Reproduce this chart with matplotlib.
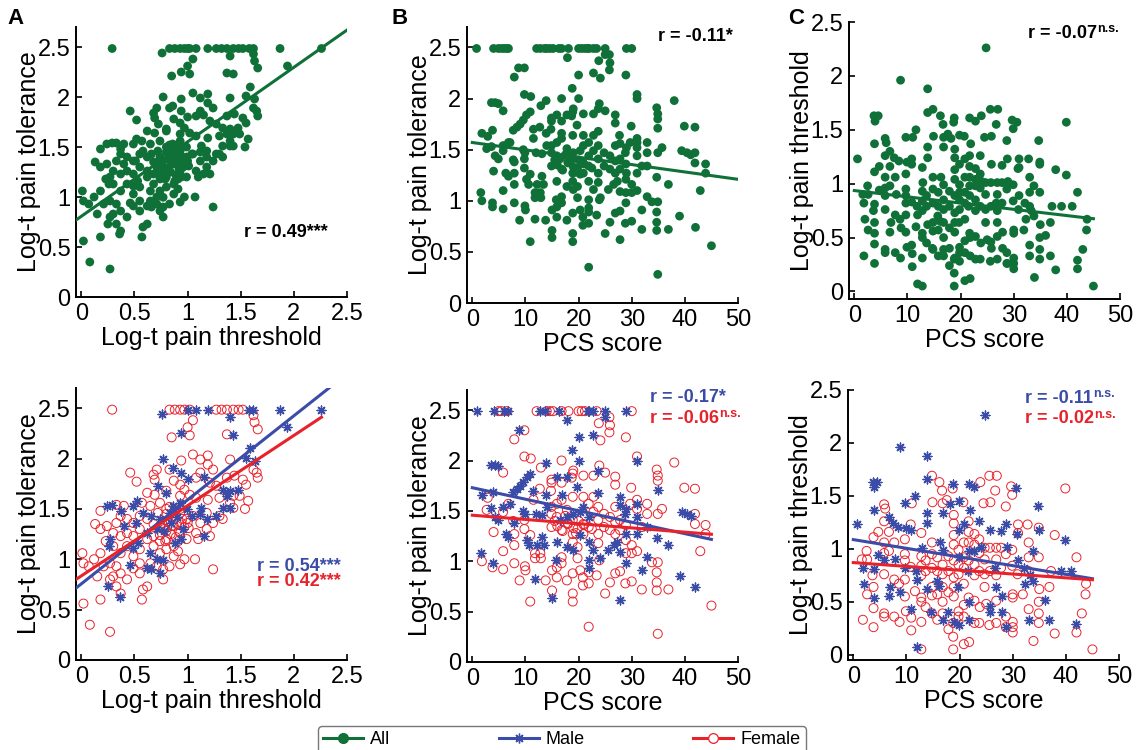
import numpy as np
import matplotlib
matplotlib.use("Agg")
import matplotlib.pyplot as plt
from matplotlib.lines import Line2D

plt.rcParams['font.family'] = ['Liberation Sans', 'DejaVu Sans']

GREEN = '#0f7038'
BLUE = '#3b4ca8'
RED = '#e8222b'

# ---- threshold vs tolerance (panel A) ----
thr_male = [0.76, 1.0, 1.08, 1.19, 1.58, 1.62, 1.87, 2.26, 1.40, 0.94, 1.43, 1.94, 1.59, 1.55, 1.63,
            0.77, 0.86, 0.94, 1.0, 1.15, 0.725, 0.80, 0.52, 0.49, 1.33, 1.37, 1.40, 1.475, 1.13, 1.12,
            1.27, 1.18, 1.33, 1.40, 0.24, 0.29, 0.37, 0.58, 0.66, 0.74, 0.83, 0.86, 0.93, 0.99, 1.04,
            0.40, 0.51, 0.62, 0.71, 0.27, 0.26, 0.49, 0.53, 0.65, 0.71, 0.77, 0.66, 0.62, 0.46, 0.74,
            0.94, 1.15, 0.88, 0.25, 0.36, 0.84, 0.90, 0.78, 0.96, 0.87]
tol_male = [2.44, 2.485, 2.485, 2.485, 2.485, 2.485, 2.485, 2.485, 2.41, 2.25, 2.23, 2.31, 2.10, 2.01, 1.98,
            2.0, 1.91, 1.86, 1.80, 1.82, 1.73, 1.66, 1.58, 1.53, 1.69, 1.63, 1.68, 1.69, 1.51, 1.45,
            1.43, 1.40, 1.51, 1.51, 1.53, 1.54, 1.48, 1.46, 1.43, 1.40, 1.46, 1.53, 1.56, 1.50, 1.43,
            1.33, 1.36, 1.26, 1.30, 1.20, 1.13, 1.11, 1.16, 1.06, 1.0, 0.997, 0.90, 0.91, 0.94, 0.86,
            1.20, 1.23, 1.16, 0.73, 0.63, 1.36, 1.42, 1.28, 1.30, 1.50]
thr_female = [0.29, 0.83, 0.88, 0.93, 0.97, 1.02, 1.27, 1.32, 1.37, 1.43, 1.48, 1.52, 1.05, 1.0, 1.02,
              0.85, 1.62, 1.63, 1.66, 1.37, 1.05, 1.12, 1.19, 1.19, 1.40, 1.24, 1.12, 1.08, 0.94, 0.83,
              0.71, 0.68, 0.46, 0.52, 0.69, 0.87, 0.93, 0.97, 1.21, 1.27, 1.37, 1.44, 1.52, 1.55, 1.65,
              1.66, 1.62, 1.57, 1.40, 1.43, 1.49, 1.30, 1.19, 1.08, 1.02, 0.93, 0.80, 0.69, 0.62, 0.57,
              0.65, 0.74, 0.80, 0.87, 0.93, 0.99, 1.05, 1.12, 1.18, 1.24, 1.30, 1.18, 1.08, 1.01, 0.94,
              0.87, 0.80, 0.74, 0.68, 0.62, 0.55, 0.49, 0.43, 0.37, 0.33, 0.40, 0.33, 0.18, 0.13, 0.18,
              0.24, 0.30, 0.37, 0.43, 0.49, 0.55, 0.62, 0.68, 0.74, 0.80, 0.87, 0.80, 0.74, 0.68, 0.55,
              0.49, 0.43, 0.37, 0.30, 0.23, 0.18, 0.12, 0.07, 0.01, 0.02, 0.15, 0.21, 0.27, 0.33, 0.30,
              0.37, 0.43, 0.49, 0.55, 0.55, 0.58, 0.57, 0.62, 0.33, 0.37, 0.27, 0.18, 0.02, 0.08, 0.27,
              0.77, 0.77, 0.83, 0.93, 0.97, 1.07, 1.24, 1.10, 1.21, 1.33, 1.43, 1.54, 0.93, 0.99, 0.91,
              0.65, 0.71, 0.87, 0.78, 0.82, 0.86, 0.90, 0.84, 0.92, 0.88, 0.80, 0.76, 0.95, 0.97, 0.74,
              0.85, 0.89, 0.93, 0.79, 0.83, 1.0, 0.72, 0.91]
tol_female = [2.485, 2.485, 2.485, 2.485, 2.485, 2.485, 2.485, 2.485, 2.485, 2.485, 2.485, 2.485, 2.38, 2.31, 2.23,
              2.21, 2.43, 2.36, 2.29, 2.24, 2.04, 1.99, 2.03, 1.94, 1.99, 1.89, 1.86, 1.81, 1.98, 1.89,
              1.89, 1.84, 1.86, 1.77, 1.79, 1.78, 1.74, 1.69, 1.76, 1.73, 1.81, 1.83, 1.79, 1.74, 1.86,
              1.81, 1.89, 1.58, 1.56, 1.63, 1.63, 1.61, 1.59, 1.61, 1.64, 1.63, 1.68, 1.64, 1.66, 1.56,
              1.53, 1.56, 1.50, 1.43, 1.46, 1.40, 1.43, 1.36, 1.46, 1.36, 1.43, 1.30, 1.26, 1.31, 1.36,
              1.33, 1.28, 1.33, 1.35, 1.40, 1.43, 1.36, 1.40, 1.43, 1.36, 1.53, 1.54, 1.48, 1.35, 1.30,
              1.33, 1.26, 1.23, 1.26, 1.23, 1.30, 1.20, 1.23, 1.18, 1.20, 1.13, 1.10, 1.06, 1.13, 1.10,
              1.03, 1.13, 1.06, 1.13, 1.18, 1.06, 1.0, 0.93, 1.06, 0.96, 0.83, 0.93, 0.96, 0.93, 0.83,
              0.86, 0.80, 0.91, 0.96, 0.86, 0.70, 0.60, 0.73, 0.73, 0.66, 0.80, 0.60, 0.56, 0.35, 0.28,
              0.80, 0.90, 0.93, 0.95, 1.0, 1.0, 0.90, 1.20, 1.23, 1.40, 1.51, 1.50, 1.26, 1.20, 1.08,
              0.96, 0.93, 1.03, 1.30, 1.38, 1.42, 1.35, 1.25, 1.28, 1.48, 1.45, 1.36, 1.40, 1.32, 1.24,
              1.33, 1.22, 1.50, 1.18, 1.52, 1.36, 1.46, 1.18]

# ---- PCS vs tolerance (panel B) ----
pcs_tol_male = [0.8, 4.0, 6.0, 6.8, 12.8, 13.6, 16.3, 21.7, 22.0, 22.8, 25.0, 25.0, 29.0, 17.9, 8.7,
                20.0, 22.8, 18.8, 20.0, 31.0, 3.6, 4.3, 4.9, 13.9, 15.9, 17.8, 23.7, 10.2, 10.9, 9.6,
                9.0, 8.4, 7.7, 1.8, 3.8, 11.5, 13.9, 16.8, 19.7, 23.7, 27.7, 27.8, 31.0, 34.9, 3.6,
                4.3, 4.9, 5.8, 7.1, 9.6, 9.9, 12.0, 13.1, 14.0, 16.5, 17.8, 19.0, 20.3, 20.9, 21.9,
                28.8, 29.0, 31.0, 32.9, 34.7, 36.9, 39.4, 40.4, 41.1, 39.0, 42.0, 27.8, 15.0, 11.8, 1.6,
                3.8, 6.3, 6.8, 7.9, 10.2, 10.6, 12.2, 13.1, 13.4, 15.9, 17.8, 19.0, 15.8, 20.3, 21.9,
                21.9, 21.9, 22.8, 24.1, 25.6, 26.6, 27.3, 27.8, 28.9, 31.9, 32.9, 31.0, 29.0]
tol_b_male = [2.49, 2.49, 2.49, 2.49, 2.49, 2.49, 2.49, 2.49, 2.49, 2.49, 2.49, 2.43, 2.49, 2.40, 2.30,
              2.23, 2.25, 2.10, 2.0, 2.0, 1.96, 1.96, 1.95, 1.98, 1.84, 1.84, 1.90, 1.84, 1.87, 1.79,
              1.75, 1.72, 1.69, 1.66, 1.69, 1.70, 1.66, 1.66, 1.74, 1.68, 1.64, 1.56, 1.57, 1.71, 1.53,
              1.44, 1.41, 1.54, 1.57, 1.50, 1.47, 1.47, 1.46, 1.54, 1.41, 1.44, 1.47, 1.49, 1.54, 1.44,
              1.47, 1.52, 1.44, 1.34, 1.23, 1.16, 1.49, 1.47, 1.45, 0.85, 0.74, 0.62, 0.64, 0.82, 1.08,
              0.98, 1.27, 1.24, 1.38, 1.21, 1.16, 1.16, 1.24, 1.16, 1.19, 1.14, 1.11, 1.01, 1.26, 1.19,
              1.01, 0.93, 1.11, 1.03, 1.11, 1.16, 1.19, 1.09, 0.98, 0.91, 1.04, 1.27, 1.27]
pcs_tol_female = [4.9, 5.5, 6.5, 12.1, 14.0, 14.6, 15.2, 16.8, 18.1, 20.0, 20.6, 21.2, 23.4, 30.0, 9.8,
                  7.9, 23.8, 25.8, 25.9, 25.8, 24.1, 28.9, 9.8, 11.0, 16.8, 12.9, 23.9, 19.0, 18.9, 18.7,
                  5.8, 14.9, 14.9, 16.8, 20.9, 22.8, 25.0, 26.9, 26.9, 31.0, 34.7, 34.9, 34.9, 38.0, 39.9,
                  41.9, 29.9, 31.0, 32.9, 29.7, 35.7, 34.9, 41.9, 41.9, 43.9, 43.9, 42.9, 34.9, 33.8, 34.7,
                  34.7, 34.7, 36.9, 34.9, 45.0, 31.9, 30.0, 28.8, 26.9, 27.8, 25.9, 25.0, 23.4, 21.9, 20.8,
                  20.8, 18.9, 18.9, 18.9, 17.8, 15.9, 15.0, 13.8, 10.9, 8.9, 21.9, 9.9, 10.0, 7.9, 5.8,
                  3.8, 1.8, 5.8, 7.9, 7.9, 4.0, 2.7, 2.9, 5.8, 6.8, 7.7, 9.8, 9.8, 10.9, 11.8,
                  11.8, 12.8, 12.9, 11.5, 12.7, 14.8, 14.9, 14.9, 14.9, 15.9, 15.9, 16.8, 16.8, 17.8, 18.0,
                  18.9, 18.9, 18.9, 18.9, 19.8, 19.8, 20.9, 20.9, 20.9, 21.9, 21.9, 22.8, 22.8, 23.7, 23.7,
                  23.7, 23.7, 23.9, 24.8, 24.8, 25.9, 25.9, 26.9, 26.9, 26.9, 27.8, 27.8, 28.9, 28.9, 28.9,
                  30.0, 31.0, 30.0, 31.9, 32.9, 31.0, 16.8, 16.8, 15.9, 15.0, 20.3, 21.9, 19.8, 16.0,
                  17.0, 18.0, 19.0, 20.0, 21.0, 17.5, 19.5, 15.5, 22.5]
tol_b_female = [2.49, 2.49, 2.49, 2.49, 2.49, 2.49, 2.49, 2.49, 2.49, 2.49, 2.49, 2.49, 2.49, 2.49, 2.30,
                2.21, 2.37, 2.43, 2.35, 2.28, 2.20, 2.23, 2.04, 2.02, 2.0, 1.93, 1.95, 1.90, 1.87, 1.83,
                1.88, 1.81, 1.78, 1.78, 1.85, 1.85, 1.88, 1.84, 1.76, 2.04, 1.91, 1.85, 1.80, 1.98, 1.73,
                1.72, 1.73, 1.61, 1.57, 1.57, 1.52, 1.47, 1.47, 1.37, 1.36, 1.27, 1.10, 0.99, 0.99, 0.89,
                0.79, 0.71, 0.72, 0.28, 0.56, 0.72, 0.80, 0.78, 0.88, 0.90, 0.79, 0.68, 0.86, 0.89, 0.84,
                0.76, 0.88, 0.68, 0.60, 0.81, 0.84, 0.71, 0.81, 0.60, 0.81, 0.35, 0.95, 0.91, 0.98, 0.92,
                0.94, 1.0, 1.10, 1.16, 1.27, 1.29, 1.51, 1.63, 1.49, 1.57, 1.40, 1.41, 1.32, 1.26, 1.08,
                1.03, 1.08, 1.03, 1.61, 1.72, 1.70, 1.54, 1.47, 1.34, 1.57, 1.44, 1.61, 1.31, 1.51, 1.37,
                1.64, 1.41, 1.27, 1.19, 1.32, 1.14, 1.64, 1.37, 1.27, 1.57, 1.34, 1.64, 1.49, 1.54, 1.41,
                1.27, 1.18, 1.01, 1.47, 1.34, 1.44, 1.31, 1.54, 1.39, 1.27, 1.41, 1.31, 1.36, 1.21, 1.08,
                1.08, 1.10, 1.16, 1.34, 1.47, 1.52, 1.04, 0.98, 0.94, 0.91, 0.91, 0.78, 1.03, 1.35,
                1.30, 1.38, 1.33, 1.40, 1.36, 1.45, 1.28, 1.40, 1.32]

# ---- PCS vs threshold (panel C) ----
pcs_thr_male = [24.8, 8.7, 13.8, 3.7, 4.5, 3.9, 13.8, 18.8, 21.7, 22.8, 30.6, 11.6, 9.7, 19.8, 18.2,
                34.7, 3.8, 21.9, 13.8, 16.8, 6.7, 7.5, 8.4, 9.9, 10.8, 0.6, 13.8, 19.8, 20.8, 23.7,
                25.8, 27.8, 28.8, 30.8, 34.9, 39.9, 12.9, 16.3, 16.8, 4.7, 28.9, 33.8, 31.0, 19.8, 21.7,
                22.8, 24.0, 7.9, 9.7, 11.8, 1.8, 3.8, 5.8, 11.9, 21.5, 26.7, 32.1, 33.3, 33.8, 32.3,
                39.0, 41.0, 2.0, 6.9, 6.7, 3.8, 8.8, 13.8, 15.7, 16.2, 19.7, 26.9, 21.8, 25.7, 25.8,
                27.9, 27.9, 10.8, 14.7, 16.8, 17.9, 18.9, 19.8, 21.8, 28.8, 33.0, 36.0, 36.9, 42.0, 11.9]
thr_c_male = [2.26, 1.96, 1.88, 1.63, 1.63, 1.58, 1.66, 1.61, 1.61, 1.58, 1.57, 1.50, 1.43, 1.45, 1.42,
              1.40, 1.37, 1.37, 1.34, 1.34, 1.30, 1.24, 1.21, 1.20, 1.18, 1.23, 1.24, 1.18, 1.23, 1.26,
              1.18, 1.17, 1.23, 1.14, 1.18, 1.08, 1.01, 1.06, 0.99, 0.94, 1.02, 0.98, 0.89, 0.92, 0.98,
              0.98, 1.02, 0.90, 0.82, 0.79, 0.82, 0.81, 0.89, 0.71, 0.79, 0.82, 0.82, 0.75, 0.70, 0.67,
              0.79, 0.79, 0.67, 0.64, 0.55, 0.54, 0.59, 0.62, 0.70, 0.65, 0.64, 0.64, 0.50, 0.46, 0.40,
              0.55, 0.40, 0.43, 0.40, 0.33, 0.40, 0.31, 0.28, 0.33, 0.26, 0.33, 0.52, 0.33, 0.29, 0.07]
pcs_thr_female = [14.8, 16.2, 16.7, 18.7, 17.6, 16.8, 14.9, 11.0, 5.8, 6.0, 23.9, 25.6, 27.0, 26.7, 24.5,
                  25.8, 20.7, 29.7, 29.9, 28.7, 39.9, 31.0, 32.8, 34.9, 37.9, 34.9, 42.0, 37.2, 33.0, 35.0,
                  36.9, 43.8, 43.7, 43.0, 42.0, 45.0, 37.9, 33.9, 34.9, 34.9, 33.0, 34.9, 30.0, 30.0, 30.0,
                  30.0, 28.7, 28.7, 26.9, 25.6, 23.7, 23.8, 22.8, 21.7, 20.8, 20.8, 19.8, 18.8, 18.8, 18.8,
                  20.8, 21.8, 22.8, 17.9, 16.8, 15.8, 14.8, 13.6, 12.8, 12.8, 12.8, 12.8, 10.9, 10.9, 9.9,
                  8.7, 7.7, 5.8, 5.8, 3.8, 3.8, 1.8, 2.6, 11.6, 9.7, 8.6, 7.7, 5.8, 3.6, 2.6,
                  5.8, 5.8, 6.7, 7.7, 6.7, 4.7, 3.8, 5.8, 9.7, 9.7, 9.7, 9.7, 10.8, 10.8, 12.8,
                  12.8, 12.8, 12.8, 13.6, 13.6, 14.8, 14.8, 14.8, 14.8, 14.8, 15.8, 15.8, 15.8, 16.8, 16.8,
                  16.8, 16.8, 17.9, 17.9, 17.9, 18.9, 18.9, 18.9, 18.9, 18.9, 18.9, 18.9, 18.9, 19.8, 19.8,
                  19.8, 19.8, 20.8, 20.8, 20.8, 20.8, 21.7, 21.7, 21.7, 21.7, 22.8, 22.8, 22.8, 22.8, 23.7,
                  23.7, 23.7, 24.7, 24.7, 24.7, 24.7, 25.7, 25.7, 26.9, 26.9, 26.9, 27.8, 28.7, 27.8, 29.9,
                  29.9, 30.9, 31.9, 33.0, 30.0, 25.0, 26.9, 2.5, 1.6, 3.8, 33.0, 31.0]
thr_c_female = [1.69, 1.63, 1.55, 1.57, 1.46, 1.43, 1.44, 1.43, 1.42, 1.38, 1.63, 1.69, 1.69, 1.55, 1.43,
                1.44, 1.44, 1.59, 1.51, 1.40, 1.57, 1.23, 1.23, 1.20, 1.13, 0.92, 0.92, 0.79, 0.79, 0.62,
                0.64, 0.67, 0.57, 0.39, 0.21, 0.05, 0.20, 0.13, 0.39, 0.30, 0.43, 0.50, 0.57, 0.31, 0.26,
                0.21, 0.26, 0.36, 0.30, 0.28, 0.30, 0.45, 0.51, 0.54, 0.47, 0.36, 0.36, 0.30, 0.17, 0.05,
                0.10, 0.12, 0.30, 0.24, 0.39, 0.33, 0.39, 0.45, 0.54, 0.50, 0.05, 0.31, 0.35, 0.23, 0.41,
                0.31, 0.36, 0.39, 0.36, 0.44, 0.26, 0.33, 0.57, 0.60, 0.55, 0.67, 0.71, 0.76, 0.75, 0.90,
                0.96, 1.06, 0.98, 1.06, 1.16, 1.16, 1.11, 1.26, 1.09, 0.95, 0.89, 0.71, 0.83, 1.23, 1.15,
                0.93, 0.84, 0.75, 0.89, 0.79, 1.06, 0.95, 0.82, 0.64, 0.56, 0.92, 0.79, 0.57, 0.85, 0.76,
                0.64, 0.50, 0.93, 0.79, 0.59, 1.32, 1.24, 1.13, 1.04, 0.89, 0.73, 0.64, 0.55, 0.99, 0.85,
                0.76, 0.41, 1.06, 0.92, 0.82, 0.67, 1.26, 1.16, 1.06, 0.89, 1.14, 1.04, 0.85, 0.75, 1.09,
                0.96, 0.79, 1.01, 0.90, 0.76, 0.64, 1.01, 0.79, 1.01, 0.90, 0.75, 1.01, 0.95, 0.82, 0.99,
                0.84, 0.76, 0.57, 0.92, 0.54, 0.48, 0.51, 0.98, 0.90, 0.64, 1.06, 1.15]

# regression lines: (slope, intercept, x start, x end)
fit_a = {'all': (0.745, 0.807, -0.05, 2.5), 'male': (0.834, 0.756, -0.05, 2.33), 'female': (0.697, 0.835, -0.05, 2.26)}
fit_b = {'all': (-0.0072, 1.57, 0, 50), 'male': (-0.0114, 1.73, 0, 45), 'female': (-0.0042, 1.457, 0, 45)}
fit_c = {'all': (-0.0058, 0.936, 0, 45), 'male': (-0.0082, 1.087, 0, 45), 'female': (-0.0036, 0.87, 0, 45)}

# correlation labels: (main text, superscript)
r_all = [('r = 0.49***', ''), ('r = -0.11*', ''), ('r = -0.07', 'n.s.')]
r_male = [('r = 0.54***', ''), ('r = -0.17*', ''), ('r = -0.11', 'n.s.')]
r_female = [('r = 0.42***', ''), ('r = -0.06', 'n.s.'), ('r = -0.02', 'n.s.')]

W, H = 1137, 750
fig = plt.figure(figsize=(W / 100, H / 100), dpi=100)


def px_axes(left, top, right, bottom):
    return fig.add_axes([left / W, 1 - bottom / H, (right - left) / W, (bottom - top) / H])


def style(ax, xlim, ylim, xticks, xlabel, ylabel):
    ax.set_xlim(*xlim)
    ax.set_ylim(*ylim)
    ax.set_xticks(xticks)
    ax.set_xticklabels(['%g' % t for t in xticks])
    yt = [0, 0.5, 1, 1.5, 2, 2.5]
    ax.set_yticks(yt)
    ax.set_yticklabels(['%g' % t for t in yt])
    for s in ['top', 'right']:
        ax.spines[s].set_visible(False)
    for s in ['left', 'bottom']:
        ax.spines[s].set_linewidth(1.4)
    ax.tick_params(direction='in', length=4, width=1.2, labelsize=17, pad=4)
    ax.set_xlabel(xlabel, fontsize=18, labelpad=1)
    ax.set_ylabel(ylabel, fontsize=18)
    ax.yaxis.set_label_coords(-0.13, 0.5)


def fit_line(ax, fit, color):
    k, b, x0, x1 = fit
    xs = np.array([x0, x1])
    ax.plot(xs, k * xs + b, color=color, lw=2.2, zorder=5)


def r_text(ax, x, y, label, color='black'):
    main, sup = label
    t = ax.text(x, y, main, transform=ax.transAxes, fontsize=13, fontweight='bold',
                va='center', ha='left', color=color)
    if sup:
        ax.annotate(sup, xy=(1.0, 0.75), xycoords=t, fontsize=9, fontweight='bold',
                    va='center', ha='left', color=color)


def draw_all(ax, x, y, fit):
    ax.scatter(x, y, s=40, color=GREEN, edgecolors='none', zorder=3)
    fit_line(ax, fit, GREEN)


def draw_sex(ax, xm, ym, xf, yf, fits):
    ax.scatter(xf, yf, s=42, facecolors='none', edgecolors=RED, linewidths=0.7, zorder=3)
    ax.scatter(xm, ym, s=40, marker=(8, 2, 0), color=BLUE, linewidths=1.0, zorder=4)
    fit_line(ax, fits['male'], BLUE)
    fit_line(ax, fits['female'], RED)


# Top row
axA = px_axes(76, 27, 347, 297)
draw_all(axA, thr_male + thr_female, tol_male + tol_female, fit_a['all'])
style(axA, (-0.05, 2.5), (0, 2.7), [0, 0.5, 1, 1.5, 2, 2.5], 'Log-t pain threshold', 'Log-t pain tolerance')
r_text(axA, 0.62, 0.24, r_all[0])

axB = px_axes(467, 27, 738, 303)
draw_all(axB, pcs_tol_male + pcs_tol_female, tol_b_male + tol_b_female, fit_b['all'])
style(axB, (-1, 50), (0, 2.7), [0, 10, 20, 30, 40, 50], 'PCS score', 'Log-t pain tolerance')
r_text(axB, 0.705, 0.965, r_all[1])

axC = px_axes(849, 22, 1120, 299)
draw_all(axC, pcs_thr_male + pcs_thr_female, thr_c_male + thr_c_female, fit_c['all'])
style(axC, (-1, 50), (-0.07, 2.5), [0, 10, 20, 30, 40, 50], 'PCS score', 'Log-t pain threshold')
r_text(axC, 0.66, 0.96, r_all[2])

# Bottom row
axD = px_axes(76, 388, 347, 660)
draw_sex(axD, thr_male, tol_male, thr_female, tol_female, fit_a)
style(axD, (-0.05, 2.5), (0, 2.7), [0, 0.5, 1, 1.5, 2, 2.5], 'Log-t pain threshold', 'Log-t pain tolerance')
r_text(axD, 0.668, 0.342, r_male[0], BLUE)
r_text(axD, 0.668, 0.287, r_female[0], RED)

axE = px_axes(467, 390, 738, 662)
draw_sex(axE, pcs_tol_male, tol_b_male, pcs_tol_female, tol_b_female, fit_b)
style(axE, (-1, 50), (0, 2.7), [0, 10, 20, 30, 40, 50], 'PCS score', 'Log-t pain tolerance')
r_text(axE, 0.675, 0.974, r_male[1], BLUE)
r_text(axE, 0.675, 0.897, r_female[1], RED)

axF = px_axes(848, 390, 1119, 660)
draw_sex(axF, pcs_thr_male, thr_c_male, pcs_thr_female, thr_c_female, fit_c)
style(axF, (-1, 50), (-0.05, 2.5), [0, 10, 20, 30, 40, 50], 'PCS score', 'Log-t pain threshold')
r_text(axF, 0.653, 0.97, r_male[2], BLUE)
r_text(axF, 0.653, 0.893, r_female[2], RED)

# panel letters
for lab, xp in [('A', 15), ('B', 400), ('C', 796)]:
    fig.text(xp / W, 1 - 18 / H, lab, fontsize=16, fontweight='bold', va='center', ha='center')

handles = [
    Line2D([], [], color=GREEN, lw=2.2, marker='o', markersize=7, markerfacecolor=GREEN, markeredgecolor=GREEN),
    Line2D([], [], color=BLUE, lw=2.2, marker=(8, 2, 0), markersize=7, markeredgewidth=1.0),
    Line2D([], [], color=RED, lw=2.2, marker='o', markersize=7, markerfacecolor='white', markeredgecolor=RED, markeredgewidth=0.9),
]
leg = fig.legend(handles, ['All', 'Male', 'Female'], loc='upper left', bbox_to_anchor=(318 / W, 1 - 726 / H),
                 ncol=3, fontsize=13, handlelength=2.2, columnspacing=6.0, handletextpad=0.4,
                 frameon=True, fancybox=True, borderpad=0.3, borderaxespad=0)
leg.get_frame().set_edgecolor('#555555')
leg.get_frame().set_linewidth(1.0)

fig.savefig('out.png', dpi=100)
